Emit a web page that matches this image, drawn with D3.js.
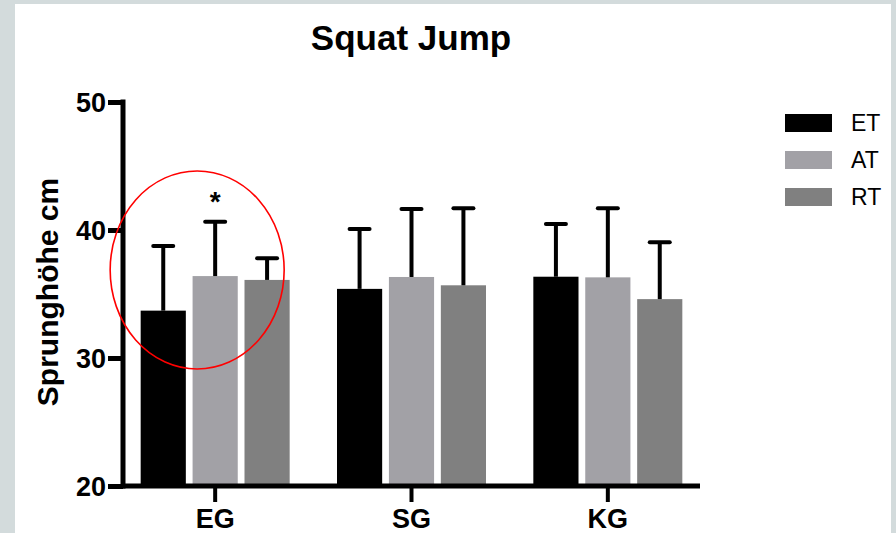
<!DOCTYPE html>
<html>
<head>
<meta charset="utf-8">
<script src="https://cdn.jsdelivr.net/npm/d3@7"></script>
<style>
  html, body { margin: 0; padding: 0; background: #d3dbdc; }
  svg { display: block; }
  text { font-family: "Liberation Sans", Arial, sans-serif; }
</style>
</head>
<body>
<svg id="chart" width="896" height="533"></svg>
<script>
// Squat jump height (cm) per group and test, mean with upper SD whisker
const groups = ["EG", "SG", "KG"];
const series = ["ET", "AT", "RT"];
const meanET = [33.7, 35.4, 36.35];
const meanAT = [36.4, 36.33, 36.3];
const meanRT = [36.1, 35.68, 34.6];
const topET = [38.75, 40.08, 40.47];
const topAT = [40.65, 41.64, 41.7];
const topRT = [37.8, 41.69, 39.04];
const yTicks = [20, 30, 40, 50];
const colors = ["#000000", "#a2a1a6", "#808080"];

const means = [meanET, meanAT, meanRT];
const tops = [topET, topAT, topRT];
const rows = [];
groups.forEach((g, gi) => series.forEach((s, si) => rows.push({
  group: g, series: s, mean: means[si][gi], top: tops[si][gi], color: colors[si]
})));

const svg = d3.select("#chart");

// white panel
svg.append("rect").attr("x", 15).attr("y", 4).attr("width", 876).attr("height", 529).attr("fill", "#ffffff");

const y = d3.scaleLinear().domain([20, 50]).range([486, 102]);
const x0 = d3.scaleBand().domain(groups).range([117, 706]).paddingInner(0).paddingOuter(0);
const x1 = d3.scaleBand().domain(series).range([-74.5, 74.5]).paddingInner(0.13).paddingOuter(0);
const cx = g => x0(g) + x0.bandwidth() / 2;

// bars
svg.append("g").selectAll("rect").data(rows).join("rect")
  .attr("x", d => cx(d.group) + x1(d.series))
  .attr("y", d => y(d.mean))
  .attr("width", x1.bandwidth())
  .attr("height", d => y(20) - y(d.mean))
  .attr("fill", d => d.color);

// upper whiskers
const wk = svg.append("g").attr("stroke", "#000").attr("stroke-width", 4).attr("stroke-linecap", "round");
rows.forEach(d => {
  const xm = cx(d.group) + x1(d.series) + x1.bandwidth() / 2;
  wk.append("line").attr("x1", xm).attr("x2", xm).attr("y1", y(d.mean)).attr("y2", y(d.top)).attr("stroke-linecap", "butt");
  wk.append("line").attr("x1", xm - 10).attr("x2", xm + 10).attr("y1", y(d.top)).attr("y2", y(d.top));
});

// y axis
const yAxis = svg.append("g").attr("transform", "translate(123,0)")
  .call(d3.axisLeft(y).tickValues(yTicks).tickSize(15).tickSizeOuter(0).tickPadding(2));
yAxis.select(".domain").attr("stroke-width", 5).attr("d", `M0,${y(50) - 2.5}V${y(20) + 2.5}`);
yAxis.selectAll(".tick line").attr("stroke-width", 5);
yAxis.selectAll(".tick text").attr("font-size", 27).attr("font-weight", "bold").attr("fill", "#000")
  .attr("font-family", "Liberation Sans, Arial, sans-serif").attr("dy", "0.36em");

// x axis
const xAxis = svg.append("g").attr("transform", `translate(0,${y(20)})`)
  .call(d3.axisBottom(x0).tickSize(16).tickSizeOuter(0));
xAxis.select(".domain").attr("stroke-width", 5).attr("d", "M121,0H700");
xAxis.selectAll(".tick line").attr("stroke-width", 4);
xAxis.selectAll(".tick text").attr("font-size", 27).attr("font-weight", "bold").attr("fill", "#000")
  .attr("font-family", "Liberation Sans, Arial, sans-serif").attr("y", 42).attr("dy", 0);

// title
svg.append("text").attr("x", 411).attr("y", 50).attr("text-anchor", "middle")
  .attr("font-size", 35).attr("font-weight", "bold").text("Squat Jump");

// y label
svg.append("text").attr("transform", "translate(58,292) rotate(-90)").attr("text-anchor", "middle")
  .attr("font-size", 30).attr("font-weight", "bold").text("Sprunghöhe cm");

// significance marker and highlight
const atEG = rows.find(d => d.group === "EG" && d.series === "AT");
svg.append("text").attr("x", cx("EG") + x1("AT") + x1.bandwidth() / 2).attr("y", y(atEG.top) - 11)
  .attr("text-anchor", "middle").attr("font-size", 28).attr("font-weight", "bold").text("*");
svg.append("ellipse").attr("cx", cx("EG") - 18).attr("cy", y(36.88)).attr("rx", 87).attr("ry", 99)
  .attr("fill", "none").attr("stroke", "#ff0000").attr("stroke-width", 1.6);

// legend
const lg = svg.append("g").attr("transform", "translate(785,114)");
series.forEach((s, i) => {
  const row = lg.append("g").attr("transform", `translate(0,${i * 37})`);
  row.append("rect").attr("width", 47).attr("height", 18).attr("fill", colors[i]);
  row.append("text").attr("x", 66).attr("y", 17).attr("font-size", 23).attr("fill", "#000").text(s);
});
</script>
</body>
</html>
